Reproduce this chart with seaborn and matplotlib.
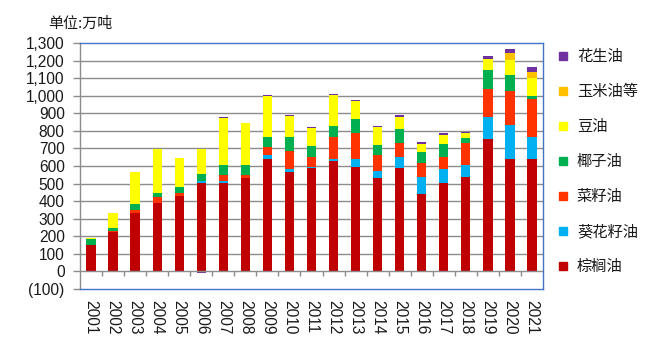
import numpy as np
import pandas as pd
import matplotlib
matplotlib.use("Agg")
import matplotlib.pyplot as plt
from matplotlib.lines import Line2D
from matplotlib.ticker import FuncFormatter, MultipleLocator
import seaborn as sns

years = [str(y) for y in range(2001, 2022)]

# 万吨, stacked bottom to top
palm      = [148, 222, 330, 387, 432, 504, 504, 529, 642, 568, 591, 631, 597, 534, 591, 443, 506, 536, 752, 642, 637]
sunflower = [0, 0, 5, 0, 0, 8, 11, 0, 19, 14, 6, 11, 45, 40, 63, 97, 76, 69, 125, 194, 127]
rapeseed  = [0, 7, 12, 34, 15, -3, 35, 21, 46, 102, 57, 122, 148, 87, 79, 76, 72, 128, 160, 193, 216]
coconut   = [34, 21, 34, 28, 36, 45, 53, 53, 60, 80, 57, 66, 80, 61, 80, 66, 74, 29, 111, 91, 17]
soybean   = [6, 80, 187, 250, 165, 142, 272, 244, 234, 123, 108, 176, 102, 102, 68, 46, 51, 28, 63, 85, 106]
corn      = [0, 0, 0, 0, 0, 0, 0, 0, 0, 0, 0, 0, 0, 0, 0, 0, 0, 0, 0, 40, 34]
peanut    = [0, 0, 0, 0, 0, -5, 6, 0, 5, 6, 5, 6, 6, 6, 12, 11, 11, 6, 17, 23, 28]

series_names = ["棕榈油", "葵花籽油", "菜籽油", "椰子油", "豆油", "玉米油等", "花生油"]
series_vals = [palm, sunflower, rapeseed, coconut, soybean, corn, peanut]
colors = ["#C00000", "#00B0F0", "#FF3300", "#00B050", "#FFFF00", "#FFC000", "#7030A0"]

sns.set_style("white")
plt.rcParams["font.family"] = ["Liberation Sans", "Noto Sans CJK SC", "DejaVu Sans"]
cjk = ["Noto Sans CJK SC", "DejaVu Sans"]

fig = plt.figure(figsize=(6.58, 3.40), dpi=100)
ax = fig.add_axes([80 / 658, 1 - 289 / 340, 463 / 658, 246 / 340])

vals = np.array(series_vals, dtype=float)
pos_cum = np.cumsum(np.clip(vals, 0, None), axis=0)
neg_cum = np.cumsum(np.clip(vals, None, 0), axis=0)

# Draw cumulative totals from the top layer down so lower layers cover upper ones
for k in range(len(series_names) - 1, -1, -1):
    tops = np.where(vals[k] < 0, neg_cum[k], pos_cum[k])
    df = pd.DataFrame({"year": years, "value": tops})
    sns.barplot(data=df, x="year", y="value", color=colors[k], saturation=1,
                width=0.42, linewidth=0, ax=ax, order=years, zorder=3)

ax.set_xlim(-0.5, len(years) - 0.5)
ax.set_ylim(-100, 1300)
ax.yaxis.set_major_locator(MultipleLocator(100))
ax.yaxis.set_major_formatter(FuncFormatter(
    lambda v, p: f"({abs(int(round(v))):,})" if v < 0 else f"{int(round(v)):,}"))

for g in range(100, 1300, 100):
    ax.axhline(g, color="#8C8C8C", lw=1.0, zorder=1)
ax.axhline(0, color="#8C8C8C", lw=1.0, zorder=4)
ax.vlines(np.arange(len(years) - 1) + 0.5, -28, 0, color="#8C8C8C", lw=1.0, zorder=4)

for side in ["top", "right", "bottom"]:
    ax.spines[side].set_color("#4472C4")
    ax.spines[side].set_linewidth(1.0)
ax.spines["left"].set_color("#8C8C8C")
ax.spines["left"].set_linewidth(1.0)

ax.tick_params(axis="y", which="major", left=True, length=5, width=1.0,
               color="#8C8C8C", pad=6, labelsize=11.2, labelcolor="#1a1a1a")
ax.tick_params(axis="x", which="major", bottom=False, length=0, pad=8,
               labelsize=11.2, labelcolor="#1a1a1a")
ax.set_xticks(range(len(years)))
ax.set_xticklabels(years, rotation=-90, va="top", ha="center")
ax.set_xlabel("")
ax.set_ylabel("")

fig.text(48 / 658, 1 - 24 / 340, "单位:万吨", ha="left", va="center",
         fontsize=10.8, family=cjk, color="#1a1a1a")

handles = [Line2D([], [], marker="s", linestyle="none", markersize=6,
                  markerfacecolor=c, markeredgecolor=c) for c in colors[::-1]]
leg = fig.legend(handles, series_names[::-1], loc="upper left",
                 bbox_to_anchor=(551 / 658, 1 - 42 / 340), frameon=False,
                 handlelength=0.8, handletextpad=0.5, labelspacing=1.18,
                 borderaxespad=0, prop={"family": cjk, "size": 11})
for t in leg.get_texts():
    t.set_color("#1a1a1a")

fig.savefig("out.png", dpi=100)
